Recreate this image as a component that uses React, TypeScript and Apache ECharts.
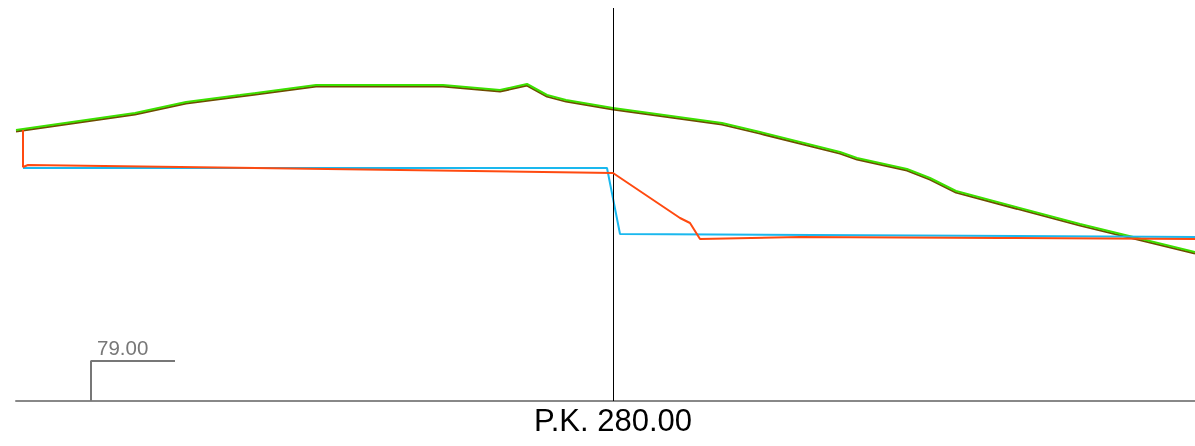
import React, { useEffect, useRef } from "react";
import * as echarts from "echarts";

// Offsets (m) from the axis and elevations (m)
const terrainX = [-59.7, -51.3, -47.8, -42.7, -37.3, -29.7, -17.0, -11.3, -8.6, -6.6, -4.7, 0, 10.9, 14.7, 22.7, 24.4, 29.4, 31.7, 34.3, 46.7, 58.2];
const terrainY = [92.55, 93.15, 93.4, 93.95, 94.3, 94.8, 94.8, 94.55, 94.85, 94.3, 94.05, 93.65, 92.9, 92.45, 91.45, 91.15, 90.6, 90.15, 89.5, 87.85, 86.45];

const projectX = [-59.0, -59.0, -58.5, 0, 6.7, 7.7, 8.7, 18.7, 38.7, 58.2];
const projectY = [92.55, 90.7, 90.8, 90.4, 88.15, 87.9, 87.1, 87.2, 87.15, 87.1];

const subgradeX = [-59.0, -0.6, 0.7, 58.2];
const subgradeY = [90.65, 90.65, 87.35, 87.2];

const datumX = [-52.2, -52.2, -43.8];
const datumY = [79, 81, 81];

const datumLabel = "79.00";
const sectionLabel = "P.K. 280.00";
const axisX = 0;

const X_MIN = -59.7;
const X_MAX = 58.2;
const Y_MIN = 79;
const Y_MAX = 98.65;

const zip = (xs: number[], ys: number[]) => xs.map((x, i) => [x, ys[i]]);

export default function App() {
  const ref = useRef<HTMLDivElement>(null);
  useEffect(() => {
    if (!ref.current) return;
    const chart = echarts.init(ref.current, undefined, { renderer: "svg" });
    const xAxisBase = {
      type: "value" as const,
      min: X_MIN,
      max: X_MAX,
      axisLabel: { show: false },
      axisTick: { show: false },
      splitLine: { show: false },
    };
    const yAxisBase = {
      type: "value" as const,
      min: Y_MIN,
      max: Y_MAX,
      show: false,
      splitLine: { show: false },
    };
    chart.setOption({
      animation: false,
      grid: [
        { left: 16, right: 0, top: 8, bottom: 45 },
        { left: 16, right: 0, top: 9.6, bottom: 43.4 },
      ],
      xAxis: [
        { ...xAxisBase, gridIndex: 0, axisLine: { show: true, onZero: false, lineStyle: { color: "#888", width: 2 } } },
        { ...xAxisBase, gridIndex: 1, show: false },
      ],
      yAxis: [
        { ...yAxisBase, gridIndex: 0 },
        { ...yAxisBase, gridIndex: 1 },
      ],
      series: [
        {
          type: "line",
          xAxisIndex: 1,
          yAxisIndex: 1,
          data: zip(terrainX, terrainY),
          symbol: "none",
          lineStyle: { color: "#6e4c00", width: 2 },
          z: 2,
        },
        {
          type: "line",
          data: zip(terrainX, terrainY),
          symbol: "none",
          lineStyle: { color: "#3ce000", width: 2 },
          z: 3,
        },
        {
          type: "line",
          data: zip(subgradeX, subgradeY),
          symbol: "none",
          lineStyle: { color: "#1ab8ee", width: 2 },
          z: 4,
          markLine: {
            silent: true,
            symbol: "none",
            label: { show: false },
            lineStyle: { color: "#000", width: 1, type: "solid" },
            data: [{ xAxis: axisX }],
          },
        },
        {
          type: "line",
          data: zip(projectX, projectY),
          symbol: "none",
          lineStyle: { color: "#ff4a10", width: 2 },
          z: 5,
        },
        {
          type: "line",
          data: zip(datumX, datumY),
          symbol: "none",
          lineStyle: { color: "#777", width: 2 },
          z: 1,
        },
      ],
      graphic: [
        {
          type: "text",
          left: 97,
          top: 337,
          style: { text: datumLabel, fill: "#777", font: "20.5px 'Liberation Sans', Arial, sans-serif" },
        },
        {
          type: "text",
          x: 613,
          y: 405,
          style: { text: sectionLabel, fill: "#000", textAlign: "center", font: "31px 'Liberation Sans', Arial, sans-serif" },
        },
      ],
    });
    return () => chart.dispose();
  }, []);
  return <div ref={ref} style={{ position: "fixed", left: 0, top: 0, width: 1195, height: 446 }} />;
}
